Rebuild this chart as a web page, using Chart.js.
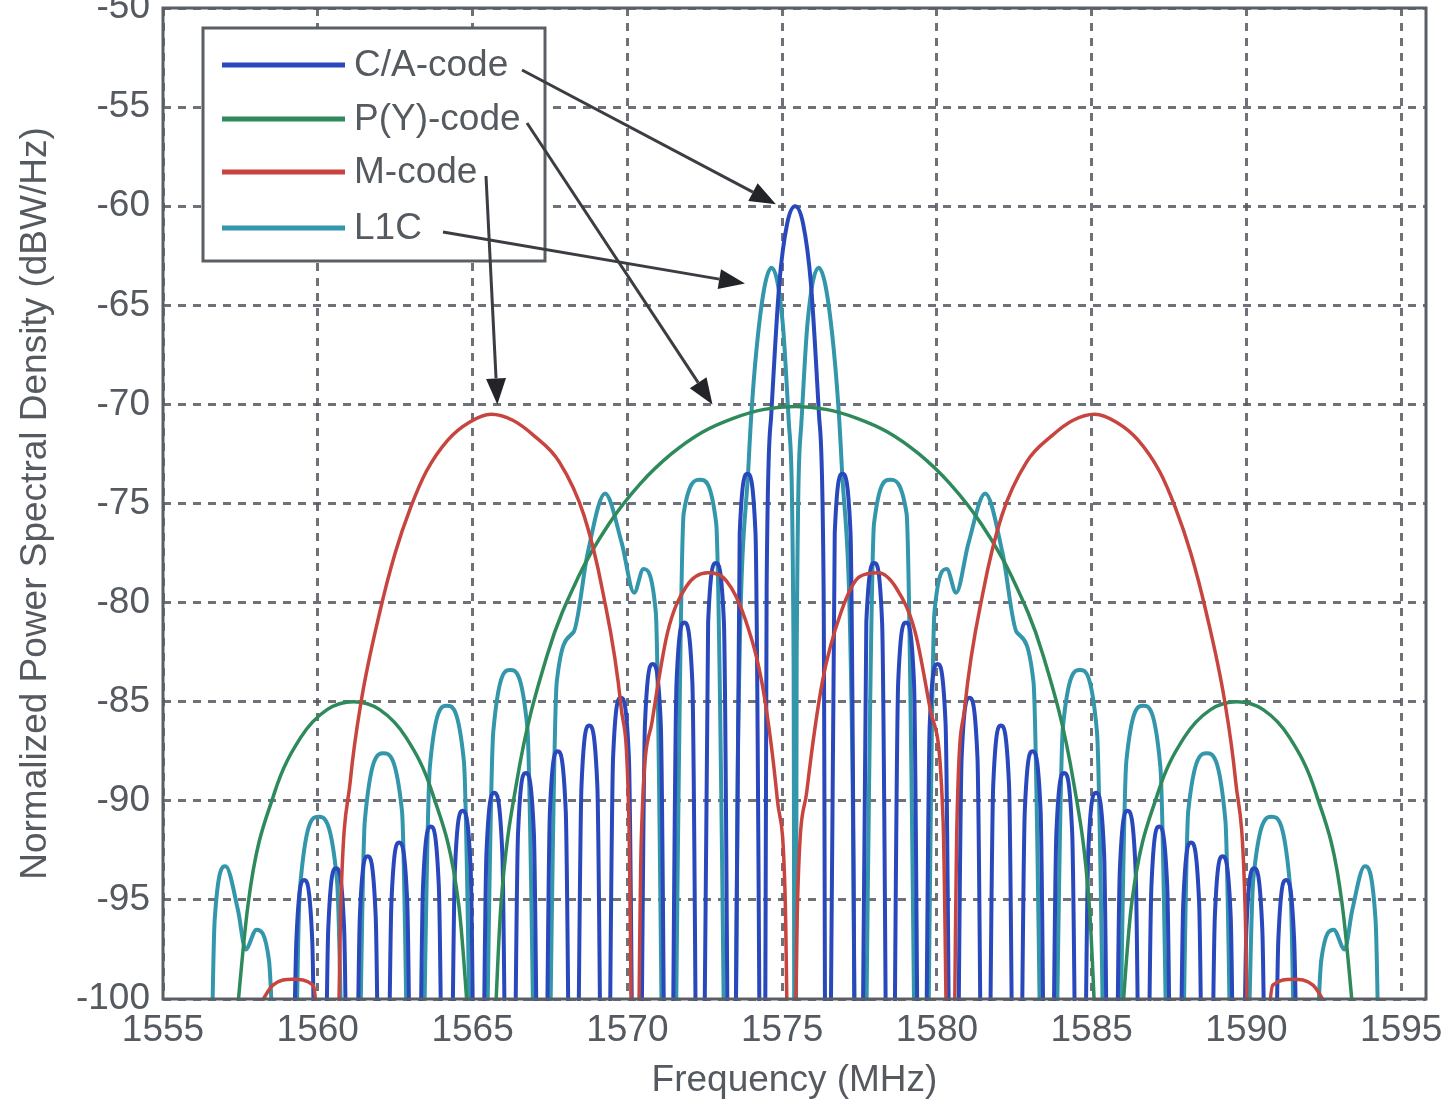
<!DOCTYPE html>
<html>
<head>
<meta charset="utf-8">
<script src="https://cdn.jsdelivr.net/npm/chart.js@4.4.1/dist/chart.umd.min.js"></script>
<style>
html,body{margin:0;padding:0;background:#fff;}
canvas{display:block;}
</style>
</head>
<body>
<canvas id="c" width="1453" height="1109"></canvas>
<script>
// ---------- data ----------
const seriesLabels = ['C/A-code', 'P(Y)-code', 'M-code', 'L1C'];
const xTickValues = [1555, 1560, 1565, 1570, 1575, 1580, 1585, 1590, 1595];
const yTickValues = [-100, -95, -90, -85, -80, -75, -70, -65, -60, -55, -50];
const xTitle = 'Frequency (MHz)';
const yTitle = 'Normalized Power Spectral Density (dBW/Hz)';

// C/A-code (MHz, dBW/Hz); spectral nulls fall below the -100 floor
const caFreq = [
  1559.05,1559.31,1559.56,1559.82,
  1560.08,1560.34,1560.59,1560.85,
  1561.10,1561.36,1561.61,1561.87,
  1562.12,1562.38,1562.63,1562.89,
  1563.14,1563.40,1563.65,1563.91,
  1564.17,1564.43,1564.68,1564.94,
  1565.19,1565.45,1565.70,1565.96,
  1566.21,1566.47,1566.72,1566.98,
  1567.24,1567.50,1567.75,1568.01,
  1568.26,1568.52,1568.77,1569.03,
  1569.28,1569.54,1569.79,1570.05,
  1570.31,1570.57,1570.82,1571.08,
  1571.33,1571.59,1571.84,1572.10,
  1572.35,1572.61,1572.86,1573.12,
  1573.37,1573.63,1573.88,1574.14,
  1574.40,1574.50,1574.65,1574.91,1575.16,1575.42,1575.68,1575.93,1576.19,1576.34,
  1576.44,1576.70,1576.95,1577.21,
  1577.47,1577.72,1577.98,1578.23,
  1578.49,1578.75,1579.00,1579.26,
  1579.51,1579.77,1580.02,1580.28,
  1580.54,1580.80,1581.05,1581.31,
  1581.56,1581.82,1582.07,1582.33,
  1582.58,1582.84,1583.09,1583.35,
  1583.60,1583.86,1584.11,1584.37,
  1584.63,1584.89,1585.14,1585.40,
  1585.65,1585.91,1586.16,1586.42,
  1586.67,1586.93,1587.18,1587.44,
  1587.70,1587.96,1588.21,1588.47,
  1588.72,1588.98,1589.23,1589.49,
  1589.74,1590.00,1590.25,1590.51,
  1590.77,1591.03,1591.28,1591.54,
  1591.79
];
const caPsd = [
  -125,-97,-94,-97,
  -125,-96.4,-93.4,-96.4,
  -125,-95.8,-92.8,-95.8,
  -125,-95.1,-92.1,-95.1,
  -125,-94.3,-91.3,-94.3,
  -125,-93.5,-90.5,-93.5,
  -125,-92.6,-89.6,-92.6,
  -125,-91.6,-88.6,-91.6,
  -125,-90.5,-87.5,-90.5,
  -125,-89.2,-86.2,-89.2,
  -125,-87.8,-84.8,-87.8,
  -125,-86.1,-83.1,-86.1,
  -125,-84,-81,-84,
  -125,-81,-78,-81,
  -125,-76.5,-73.5,-76.5,
  -125,-79.2,-70.5,-63.9,-60.9,-60,-60.9,-63.9,-70.5,-79.2,
  -125,-76.5,-73.5,-76.5,
  -125,-81,-78,-81,
  -125,-84,-81,-84,
  -125,-86.1,-83.1,-86.1,
  -125,-87.8,-84.8,-87.8,
  -125,-89.2,-86.2,-89.2,
  -125,-90.5,-87.5,-90.5,
  -125,-91.6,-88.6,-91.6,
  -125,-92.6,-89.6,-92.6,
  -125,-93.5,-90.5,-93.5,
  -125,-94.3,-91.3,-94.3,
  -125,-95.1,-92.1,-95.1,
  -125,-95.8,-92.8,-95.8,
  -125,-96.4,-93.4,-96.4,
  -125,-97,-94,-97,
  -125
];

// P(Y)-code
const pyFreq = [
  1556.90,1557.75,1558.60,1559.45,1560.30,1561.15,1562.00,1562.85,1563.70,1564.55,1565.40,
  1565.92,1566.42,1567.42,1568.42,1569.42,1570.42,1571.42,1572.42,1573.42,1574.42,1575.42,
  1576.42,1577.42,1578.42,1579.42,1580.42,1581.42,1582.42,1583.42,1584.42,1584.92,1585.44,
  1586.29,1587.14,1587.99,1588.84,1589.69,1590.54,1591.39,1592.24,1593.09,1593.94
];
const pyPsd = [
  -110,-95.2,-89.6,-86.8,-85.4,-85,-85.4,-86.8,-89.6,-95.2,-110,
  -95.2,-89.1,-82.6,-78.7,-76,-74,-72.5,-71.4,-70.7,-70.25,-70.1,
  -70.25,-70.7,-71.4,-72.5,-74,-76,-78.7,-82.6,-89.1,-95.2,-110,
  -95.2,-89.6,-86.8,-85.4,-85,-85.4,-86.8,-89.6,-95.2,-110
];

// M-code
const mFreq = [
  1557.90,1558.55,1559.20,1559.85,1560.50,
  1560.75,1561.05,1561.40,1562.00,1562.50,1563.00,1563.50,1564.20,1564.90,1565.60,
  1566.30,1567.00,1567.80,1568.60,1569.20,1569.80,1570.05,1570.25,
  1570.45,1570.80,1571.30,1571.90,1572.60,1573.20,1573.80,1574.40,1574.85,1575.10,1575.30,
  1575.50,1575.80,1576.30,1576.90,1577.50,1578.10,1578.70,1579.30,1579.80,1580.20,1580.45,
  1580.65,1580.90,1581.50,1582.10,1582.90,1583.70,1584.40,1585.10,
  1585.80,1586.50,1587.20,1587.70,1588.20,1588.70,1589.30,1589.65,1589.95,1590.20,
  1590.85,1591.50,1592.15,1592.80
];
const mPsd = [
  -101,-99.3,-99,-99.3,-115,
  -95,-89,-85,-80.5,-77.5,-75.2,-73.4,-71.8,-70.9,-70.5,
  -70.8,-71.6,-72.9,-75.6,-79.4,-85.3,-91,-115,
  -92,-86,-81.5,-79.2,-78.5,-78.9,-80.8,-84.5,-90,-95,-115,
  -95,-89.5,-84,-80.5,-78.7,-78.5,-79.3,-81.5,-85.5,-91,-115,
  -91,-85.3,-79.4,-75.6,-72.9,-71.6,-70.8,-70.5,
  -70.9,-71.8,-73.4,-75.2,-77.5,-80.5,-85,-89,-95,-115,
  -99.3,-99,-99.3,-101
];

// L1C
const l1cFreq = [
  1556.42,1556.67,1557.02,1557.42,1557.67,1558.02,1558.42,
  1559.05,1559.42,1560.02,1560.62,
  1561.10,1561.52,1562.12,1562.72,
  1563.14,1563.62,1564.17,1564.72,
  1565.19,1565.67,1566.22,1566.77,
  1567.24,1567.72,1568.26,1568.72,1569.28,1569.82,1570.22,1570.52,1570.92,
  1571.33,1571.82,1572.35,1572.87,
  1573.37,1573.57,1573.92,1574.22,1574.66,1575.02,1575.22,1575.37,
  1575.42,
  1575.47,1575.62,1575.82,1576.18,1576.62,1576.92,1577.27,
  1577.47,1577.97,1578.49,1579.02,
  1579.51,1579.92,1580.32,1580.62,1581.02,1581.56,1582.12,1582.58,1583.12,
  1583.60,1584.07,1584.62,1585.17,
  1585.65,1586.12,1586.67,1587.22,
  1587.70,1588.12,1588.72,1589.32,
  1589.74,1590.22,1590.82,1591.42,
  1591.79,1592.42,1592.82,1593.17,1593.42,1593.82,1594.17,1594.42
];
const l1cPsd = [
  -120,-96,-93.3,-95.5,-97.5,-96.5,-98,
  -125,-94.5,-90.8,-94,
  -125,-91,-87.6,-90.5,
  -125,-88.3,-85.2,-88,
  -125,-86.5,-83.4,-86.3,
  -125,-84,-81.5,-77.5,-74.5,-77,-79.5,-78.3,-80.5,
  -125,-75.5,-73.8,-76,
  -125,-88,-72.9,-66.5,-63.1,-65.9,-71,-82.8,
  -125,
  -82.8,-71,-65.9,-63.1,-66.5,-72.9,-88,
  -125,-76,-73.8,-75.5,
  -125,-80.5,-78.3,-79.5,-77,-74.5,-77.5,-81.5,-84,
  -125,-86.3,-83.4,-86.5,
  -125,-88,-85.2,-88.3,
  -125,-90.5,-87.6,-91,
  -125,-94,-90.8,-94.5,
  -125,-98,-96.5,-97.5,-95.5,-93.3,-96,-120
];

// annotation arrow tips (data coordinates), one per legend entry
const arrowTipFreq = [1574.8, 1572.75, 1565.8, 1573.8];
const arrowTipPsd  = [-59.9, -70.0, -70.0, -63.9];

// ---------- styling ----------
const colors = ['#2848bc', '#2f8a5b', '#c8453f', '#3396ab'];
const FONT = "'Liberation Sans', Arial, sans-serif";
const TEXT = '#555a60';
const GRID = 'rgba(85,88,95,0.85)';

function pts(fx, fy) { return fx.map((f, i) => ({x: f, y: fy[i]})); }

const datasets = [
  {label: seriesLabels[0], data: pts(caFreq, caPsd), borderColor: colors[0], order: 3, borderWidth: 4},
  {label: seriesLabels[1], data: pts(pyFreq, pyPsd), borderColor: colors[1], order: 1, borderWidth: 3.5},
  {label: seriesLabels[2], data: pts(mFreq, mPsd), borderColor: colors[2], order: 0, borderWidth: 3.5},
  {label: seriesLabels[3], data: pts(l1cFreq, l1cPsd), borderColor: colors[3], order: 4, borderWidth: 4}
].map(d => Object.assign(d, {
  pointRadius: 0, fill: false,
  cubicInterpolationMode: 'monotone', clip: 2
}));

function arrow(ctx, x0, y0, x1, y1) {
  const ang = Math.atan2(y1 - y0, x1 - x0);
  const L = 26, W = 10;
  const bx = x1 - L * Math.cos(ang), by = y1 - L * Math.sin(ang);
  ctx.beginPath();
  ctx.moveTo(x0, y0); ctx.lineTo(bx, by); ctx.stroke();
  ctx.beginPath();
  ctx.moveTo(x1, y1);
  ctx.lineTo(bx + W * Math.sin(ang), by - W * Math.cos(ang));
  ctx.lineTo(bx - W * Math.sin(ang), by + W * Math.cos(ang));
  ctx.closePath(); ctx.fill();
}

const overlay = {
  id: 'overlay',
  afterDatasetsDraw(chart) {
    const {ctx, chartArea: a, scales: {x, y}} = chart;
    ctx.save();
    ctx.lineWidth = 3;
    ctx.strokeStyle = '#5a5f66';
    ctx.strokeRect(a.left, a.top, a.right - a.left, a.bottom - a.top);

    // legend box
    const bx = a.left + 40, by = a.top + 20, bw = 342, bh = 233;
    ctx.fillStyle = '#fff';
    ctx.fillRect(bx, by, bw, bh);
    ctx.strokeRect(bx, by, bw, bh);
    const rowY = [37, 91, 144, 200];
    ctx.font = '37px ' + FONT;
    ctx.textBaseline = 'middle';
    ctx.textAlign = 'left';
    chart.data.datasets.forEach((d, i) => {
      ctx.strokeStyle = d.borderColor;
      ctx.lineWidth = 5;
      ctx.beginPath();
      ctx.moveTo(bx + 19, by + rowY[i]);
      ctx.lineTo(bx + 142, by + rowY[i]);
      ctx.stroke();
      ctx.fillStyle = TEXT;
      ctx.fillText(d.label, bx + 151, by + rowY[i] + 1);
    });

    // arrows
    const starts = [[319, 42], [324, 95], [283, 148], [240, 204]];
    ctx.strokeStyle = '#3a3d42';
    ctx.fillStyle = '#222428';
    ctx.lineWidth = 3;
    starts.forEach((s, i) => {
      arrow(ctx, bx + s[0], by + s[1],
        x.getPixelForValue(arrowTipFreq[i]), y.getPixelForValue(arrowTipPsd[i]));
    });
    ctx.restore();
  }
};

new Chart(document.getElementById('c'), {
  type: 'line',
  data: {datasets},
  options: {
    responsive: false,
    animation: false,
    devicePixelRatio: 1,
    layout: {padding: {top: 8, right: 27, left: 0, bottom: 0}},
    plugins: {legend: {display: false}, tooltip: {enabled: false}},
    scales: {
      x: {
        type: 'linear', min: 1555, max: 1595.8,
        afterBuildTicks: s => { s.ticks = xTickValues.map(v => ({value: v})); },
        afterFit: s => { s.height = 110; s.paddingLeft = 0; s.paddingRight = 0; },
        ticks: {font: {family: FONT, size: 37}, color: TEXT, padding: 10, maxRotation: 0, autoSkip: false,
                callback: v => String(v)},
        grid: {color: GRID, lineWidth: 3, drawTicks: false},
        border: {display: false, dash: [8, 7]},
        title: {display: true, text: xTitle, font: {family: FONT, size: 37}, color: TEXT, padding: {top: 0, bottom: 6}}
      },
      y: {
        type: 'linear', min: -100, max: -50,
        afterBuildTicks: s => { s.ticks = yTickValues.map(v => ({value: v})); },
        afterFit: s => { s.width = 163; s.paddingTop = 0; s.paddingBottom = 0; },
        ticks: {font: {family: FONT, size: 37}, color: TEXT, padding: 13, autoSkip: false,
                callback: v => String(v)},
        grid: {color: GRID, lineWidth: 3, drawTicks: false},
        border: {display: false, dash: [8, 7]},
        title: {display: true, text: yTitle, font: {family: FONT, size: 37}, color: TEXT, padding: {top: 14, bottom: 0}}
      }
    }
  },
  plugins: [overlay]
});
</script>
</body>
</html>
